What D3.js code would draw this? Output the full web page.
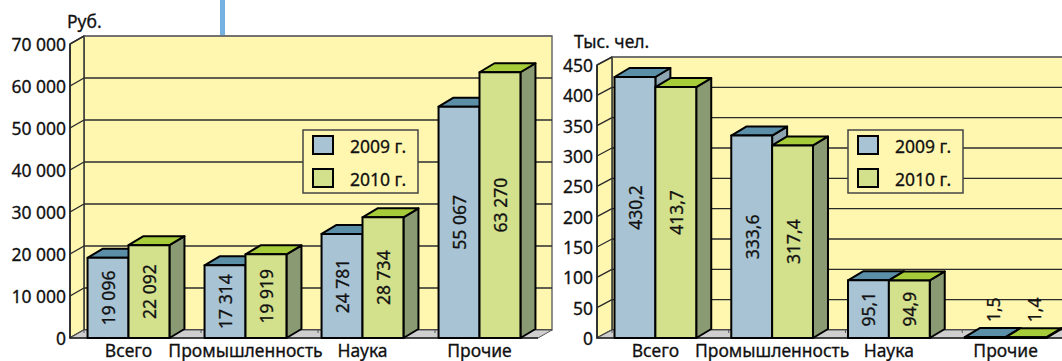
<!DOCTYPE html>
<html>
<head>
<meta charset="utf-8">
<script src="https://cdn.jsdelivr.net/npm/d3@7"></script>
<style>
  html, body { margin: 0; padding: 0; background: #fff; }
  svg { display: block; font-family: "Noto Sans", sans-serif; }
  svg text { stroke: #111; stroke-width: 0.3px; }
</style>
</head>
<body>
<svg id="chart" width="1062" height="361"></svg>
<script>
// Categories and series
const categories = ["Всего", "Промышленность", "Наука", "Прочие"];
const seriesNames = ["2009 г.", "2010 г."];

// Average wage, roubles
const wage2009 = [19096, 17314, 24781, 55067];
const wage2010 = [22092, 19919, 28734, 63270];
const wageTicks = [0, 10000, 20000, 30000, 40000, 50000, 60000, 70000];

// Headcount, thousand people
const staff2009 = [430.2, 333.6, 95.1, 1.5];
const staff2010 = [413.7, 317.4, 94.9, 1.4];
const staffTicks = [0, 50, 100, 150, 200, 250, 300, 350, 400, 450];

const ru = d3.formatLocale({ decimal: ",", thousands: "\u00a0", grouping: [3], currency: ["", " ₽"] });
const fmtInt = ru.format(",d");
const fmtDec = ru.format(",.1f");

const colors = {
  wall: "#fff7b0",
  floor: "#cfcfcf",
  grid: "#2b2b2b",
  border: "#6a6a6a",
  front: ["#a8c4d4", "#d3e08c"],
  top: ["#5b8fa8", "#a6cc3a"],
  side: ["#8ea5b1", "#8a9b74"]
};
const FS = 17.5;

const svg = d3.select("#chart");

// Thin blue marker at the top
svg.append("line")
  .attr("x1", 222.5).attr("x2", 222.5).attr("y1", 0).attr("y2", 35)
  .attr("stroke", "#72b1e0").attr("stroke-width", 5);

function drawChart(cfg) {
  const g = svg.append("g");
  const { wall, bar } = cfg;
  const x = d3.scaleBand().domain(categories).range([cfg.x0, cfg.x1]);
  const y = d3.scaleLinear().domain(cfg.domain).range(cfg.yRange);
  const y0 = y(0), yMax = y(cfg.domain[1]);
  const bw = x.bandwidth() * 0.35;
  const xr = cfg.x1 + wall.dx;

  // Back wall
  g.append("rect")
    .attr("x", cfg.x0 + wall.dx).attr("y", yMax + wall.dy)
    .attr("width", xr - cfg.x0 - wall.dx).attr("height", y0 - yMax)
    .attr("fill", colors.wall).attr("stroke", colors.border).attr("stroke-width", 1.5);

  // Side wall
  g.append("polygon")
    .attr("points", [[cfg.x0, y0], [cfg.x0, yMax], [cfg.x0 + wall.dx, yMax + wall.dy], [cfg.x0 + wall.dx, y0 + wall.dy]].map(p => p.join(",")).join(" "))
    .attr("fill", colors.wall).attr("stroke", "#333").attr("stroke-width", 1.5);

  // Gridlines on back and side walls
  cfg.ticks.forEach(t => {
    g.append("line")
      .attr("x1", cfg.x0 + wall.dx).attr("x2", xr)
      .attr("y1", y(t) + wall.dy).attr("y2", y(t) + wall.dy)
      .attr("stroke", t === cfg.domain[1] ? colors.border : colors.grid).attr("stroke-width", 1.4);
    g.append("line")
      .attr("x1", cfg.x0).attr("x2", cfg.x0 + wall.dx)
      .attr("y1", y(t)).attr("y2", y(t) + wall.dy)
      .attr("stroke", colors.grid).attr("stroke-width", 1.4);
  });

  // Floor
  g.append("polygon")
    .attr("points", [[cfg.x0, y0], [cfg.x1, y0], [cfg.x1 + wall.dx, y0 + wall.dy], [cfg.x0 + wall.dx, y0 + wall.dy]].map(p => p.join(",")).join(" "))
    .attr("fill", colors.floor).attr("stroke", "#555").attr("stroke-width", 1);
  // Category boundary ticks on the floor
  categories.forEach(c => {
    const bx = x(c) + wall.dx;
    g.append("line").attr("x1", bx).attr("x2", bx)
      .attr("y1", y0 + wall.dy).attr("y2", y0 + wall.dy + 3)
      .attr("stroke", "#555").attr("stroke-width", 1);
  });
  g.append("line").attr("x1", cfg.x0).attr("x2", cfg.x1).attr("y1", y0).attr("y2", y0)
    .attr("stroke", "#222").attr("stroke-width", 1.5);
  g.append("line").attr("x1", cfg.x0).attr("x2", cfg.x0).attr("y1", y0).attr("y2", yMax)
    .attr("stroke", "#222").attr("stroke-width", 1.5);

  // Value axis labels
  g.selectAll("text.tick").data(cfg.ticks).join("text")
    .attr("class", "tick")
    .attr("x", cfg.x0 - 4).attr("y", d => y(d))
    .attr("text-anchor", "end").attr("dominant-baseline", "central")
    .attr("font-size", FS).attr("fill", "#111")
    .text(d => cfg.fmtTick(d));

  // Unit caption
  g.append("text").attr("x", cfg.unitX).attr("y", cfg.unitY)
    .attr("font-size", FS).attr("fill", "#111").text(cfg.unit);

  // 3D columns
  categories.forEach((c, i) => {
    cfg.series.forEach((vals, s) => {
      const v = vals[i];
      const bx = x(c) + x.bandwidth() / 2 - bw + s * bw;
      const by = y(v);
      const bg = g.append("g")
        .attr("stroke", "#000").attr("stroke-width", 2).attr("stroke-linejoin", "round");
      bg.append("polygon")
        .attr("points", [[bx + bw, by], [bx + bw + bar.dx, by + bar.dy], [bx + bw + bar.dx, y0 + bar.dy], [bx + bw, y0]].map(p => p.join(",")).join(" "))
        .attr("fill", colors.side[s]);
      bg.append("polygon")
        .attr("points", [[bx, by], [bx + bar.dx, by + bar.dy], [bx + bw + bar.dx, by + bar.dy], [bx + bw, by]].map(p => p.join(",")).join(" "))
        .attr("fill", colors.top[s]);
      bg.append("rect")
        .attr("x", bx).attr("y", by).attr("width", bw).attr("height", y0 - by)
        .attr("fill", colors.front[s]);

      const t = g.append("text")
        .attr("font-size", FS).attr("fill", "#111")
        .attr("dominant-baseline", "central")
        .text(cfg.fmtValue(v));
      const len = t.node().getComputedTextLength();
      if (y0 - by > len + 10) {
        t.attr("text-anchor", "middle")
          .attr("transform", `translate(${bx + bw / 2},${(by + y0) / 2}) rotate(-90)`);
      } else {
        t.attr("text-anchor", "start")
          .attr("transform", `translate(${bx + bw / 2 + bar.dx / 2},${by + bar.dy - 6}) rotate(-90)`);
      }
    });
  });

  // Category labels
  g.selectAll("text.cat").data(categories).join("text")
    .attr("class", "cat")
    .attr("x", d => x(d) + x.bandwidth() / 2).attr("y", 356.5)
    .attr("text-anchor", "middle").attr("font-size", FS).attr("fill", "#111")
    .text(d => d);

  // Legend
  const lg = g.append("g").attr("transform", `translate(${cfg.legendX},130)`);
  lg.append("rect").attr("width", 115).attr("height", 63)
    .attr("fill", colors.wall).attr("stroke", "#444").attr("stroke-width", 1.5);
  seriesNames.forEach((name, s) => {
    lg.append("rect").attr("x", 10).attr("y", 6 + s * 33).attr("width", 20).attr("height", 18)
      .attr("fill", colors.front[s]).attr("stroke", "#000").attr("stroke-width", 2);
    lg.append("text").attr("x", 47).attr("y", 16 + s * 33)
      .attr("dominant-baseline", "central").attr("font-size", FS).attr("fill", "#111")
      .text(name);
  });
}

drawChart({
  x0: 70, x1: 538,
  domain: [0, 70000], yRange: [338, 44], ticks: wageTicks,
  wall: { dx: 14, dy: -8 }, bar: { dx: 15, dy: -9 },
  series: [wage2009, wage2010],
  fmtTick: d => fmtInt(d), fmtValue: d => fmtInt(d),
  unit: "Руб.", unitX: 67, unitY: 28,
  legendX: 303
});

drawChart({
  x0: 597, x1: 1064,
  domain: [0, 450], yRange: [338, 65], ticks: staffTicks,
  wall: { dx: 15, dy: -8 }, bar: { dx: 15, dy: -9 },
  series: [staff2009, staff2010],
  fmtTick: d => String(d), fmtValue: d => fmtDec(d),
  unit: "Тыс. чел.", unitX: 574, unitY: 48,
  legendX: 848
});
</script>
</body>
</html>
